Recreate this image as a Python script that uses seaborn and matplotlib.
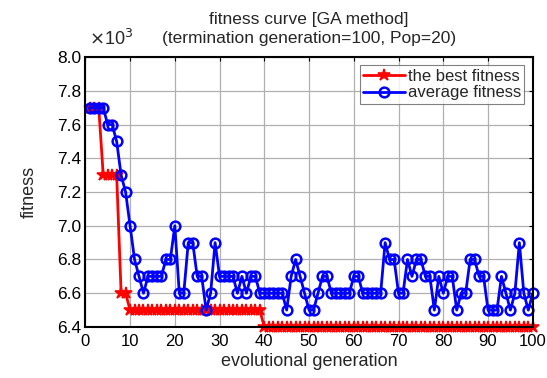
import numpy as np
import pandas as pd
import matplotlib
matplotlib.use("Agg")
import matplotlib.pyplot as plt
import seaborn as sns

# fitness values, in units of 10^3
generation = list(range(1, 101))
best_fitness = [7.7] * 3 + [7.3] * 4 + [6.6] * 2 + [6.5] * 30 + [6.4] * 61
average_fitness = [
    7.7, 7.7, 7.7, 7.7, 7.6, 7.6, 7.5, 7.3, 7.2, 7.0,
    6.8, 6.7, 6.6, 6.7, 6.7, 6.7, 6.7, 6.8, 6.8, 7.0,
    6.6, 6.6, 6.9, 6.9, 6.7, 6.7, 6.5, 6.6, 6.9, 6.7,
    6.7, 6.7, 6.7, 6.6, 6.7, 6.6, 6.7, 6.7, 6.6, 6.6,
    6.6, 6.6, 6.6, 6.6, 6.5, 6.7, 6.8, 6.7, 6.6, 6.5,
    6.5, 6.6, 6.7, 6.7, 6.6, 6.6, 6.6, 6.6, 6.6, 6.7,
    6.7, 6.6, 6.6, 6.6, 6.6, 6.6, 6.9, 6.8, 6.8, 6.6,
    6.6, 6.8, 6.7, 6.8, 6.8, 6.7, 6.7, 6.5, 6.7, 6.6,
    6.7, 6.7, 6.5, 6.6, 6.6, 6.8, 6.8, 6.7, 6.7, 6.5,
    6.5, 6.5, 6.7, 6.6, 6.5, 6.6, 6.9, 6.6, 6.5, 6.6,
]
x_ticks = list(range(0, 101, 10))
y_ticks = [6.4, 6.6, 6.8, 7.0, 7.2, 7.4, 7.6, 7.8, 8.0]

df = pd.DataFrame({"gen": generation, "best": best_fitness, "avg": average_fitness})

sns.set_style("whitegrid")
plt.rcParams["font.family"] = ["Liberation Sans", "DejaVu Sans"]

fig = plt.figure(figsize=(5.47, 3.78), dpi=100)
ax = fig.add_axes([0.156, 0.135, 0.818, 0.714])

sns.lineplot(data=df, x="gen", y="best", ax=ax, color="red", lw=2,
             marker="*", markersize=9, markeredgewidth=1.2,
             markeredgecolor="red", label="the best fitness", clip_on=False, zorder=3)
sns.lineplot(data=df, x="gen", y="avg", ax=ax, color="blue", lw=2,
             marker="o", markersize=7, markerfacecolor="none",
             markeredgecolor="blue", markeredgewidth=1.8, label="average fitness",
             clip_on=False, zorder=4)

ax.set_xlim(0, 100)
ax.set_ylim(6.4, 8.0)
ax.set_xticks(x_ticks)
ax.set_yticks(y_ticks)
ax.set_yticklabels([f"{v:.1f}" for v in y_ticks])
ax.grid(True, color="#b0b0b0", lw=0.9)
for s in ax.spines.values():
    s.set_color("black")
    s.set_linewidth(1.5)
    s.set_zorder(5)
ax.tick_params(direction="in", length=3, labelsize=12.5, top=True, right=True,
               colors="black", pad=3)
ax.tick_params(axis="x", pad=5, labelsize=12)

ax.set_xlabel("evolutional generation", fontsize=13, labelpad=3)
ax.set_ylabel("fitness", fontsize=13, labelpad=14)
ax.set_title("fitness curve [GA method]\n(termination generation=100, Pop=20)",
             fontsize=12.5, linespacing=1.35, pad=10)
fig.text(0.162, 0.882, r"$\times$10$^{3}$", fontsize=13)

leg = ax.legend(loc="upper right", fontsize=12, frameon=True, fancybox=False,
                borderpad=0.2, handlelength=2.5, handletextpad=0.2,
                labelspacing=0.1, borderaxespad=0.5)
leg.get_frame().set_edgecolor("#606060")
leg.get_frame().set_linewidth(0.8)

fig.savefig("out.png", dpi=100)
